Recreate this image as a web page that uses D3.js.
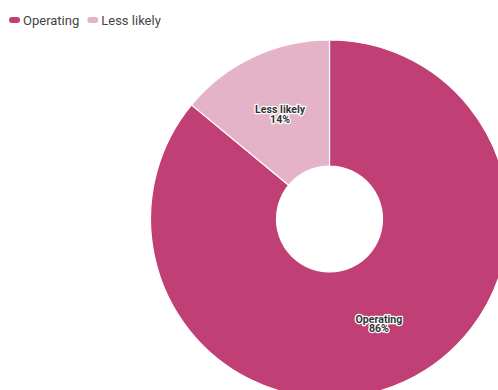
<!DOCTYPE html>
<html>
<head>
<meta charset="utf-8">
<script src="https://cdn.jsdelivr.net/npm/d3@7"></script>
<style>
  html, body { margin: 0; padding: 0; background: #fff; }
  svg { display: block; font-family: Roboto, "Noto Sans", sans-serif; }
</style>
</head>
<body>
<svg id="chart" width="498" height="390"></svg>
<script>
// Donut: share of operating vs. less likely
const categories = ["Operating", "Less likely"];
const shares = [86, 14];
const colors = ["#C03F75", "#E5B3C8"];

const width = 498, height = 390;
const cx = 329.5, cy = 219;
const outerR = 179, innerR = 53;

const svg = d3.select("#chart");

const data = categories.map((c, i) => ({ name: c, value: shares[i], color: colors[i] }));

const pie = d3.pie().sort(null).value(d => d.value);
const arc = d3.arc().innerRadius(innerR).outerRadius(outerR);

const g = svg.append("g").attr("transform", `translate(${cx},${cy})`);

g.selectAll("path.slice")
  .data(pie(data))
  .join("path")
  .attr("class", "slice")
  .attr("d", arc)
  .attr("fill", d => d.data.color)
  .attr("stroke", "#fff")
  .attr("stroke-width", 1.2);

// Slice labels at arc centroids, with a white halo
const labels = g.selectAll("text.label")
  .data(pie(data))
  .join("text")
  .attr("class", "label")
  .attr("transform", d => `translate(${arc.centroid(d)})`)
  .attr("text-anchor", "middle")
  .attr("font-size", 10.6)
  .attr("font-weight", "bold")
  .attr("fill", "#333")
  .attr("stroke", "#fff")
  .attr("stroke-width", 2.5)
  .attr("stroke-linejoin", "round")
  .attr("paint-order", "stroke");

labels.append("tspan").attr("x", 0).attr("y", -1).text(d => d.data.name);
labels.append("tspan").attr("x", 0).attr("y", 8.5).text(d => d.data.value + "%");

// Legend
const legend = svg.append("g").attr("transform", "translate(9,20)");
let lx = 0;
data.forEach(d => {
  const item = legend.append("g").attr("transform", `translate(${lx},0)`);
  item.append("rect")
    .attr("x", 0).attr("y", -3)
    .attr("width", 11).attr("height", 6)
    .attr("rx", 3).attr("ry", 3)
    .attr("fill", d.color);
  const t = item.append("text")
    .attr("x", 14).attr("y", 4.5)
    .attr("font-size", 13)
    .attr("fill", "#444")
    .text(d.name);
  lx += 14 + t.node().getComputedTextLength() + 8;
});
</script>
</body>
</html>
